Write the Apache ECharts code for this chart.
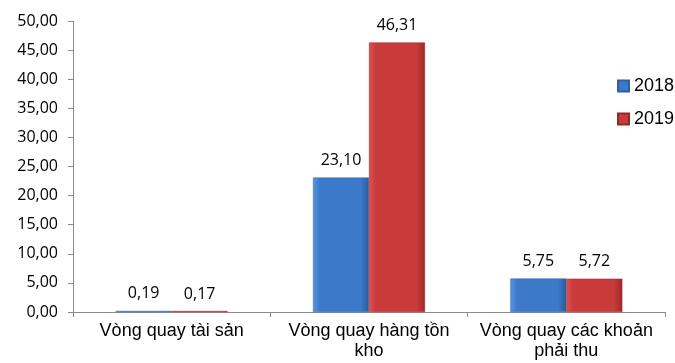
<!DOCTYPE html>
<html>
<head>
<meta charset="utf-8">
<script src="https://cdn.jsdelivr.net/npm/echarts@6/dist/echarts.min.js"></script>
<style>
  html, body { margin: 0; padding: 0; background: #fff; }
  #chart { width: 675px; height: 363px; }
</style>
</head>
<body>
<div id="chart"></div>
<script>
  var categories = ['Vòng quay tài sản', 'Vòng quay hàng tồn\nkho', 'Vòng quay các khoản\nphải thu'];
  var years = ['2018', '2019'];
  var values2018 = [0.19, 23.10, 5.75];
  var values2019 = [0.17, 46.31, 5.72];

  function fmt(v) {
    return v.toFixed(2).replace('.', ',');
  }

  // thanh có viền sáng bên trái, tối bên phải
  function barColor(light, mid, dark) {
    return new echarts.graphic.LinearGradient(0, 0, 1, 0, [
      { offset: 0, color: light },
      { offset: 0.12, color: mid },
      { offset: 0.85, color: mid },
      { offset: 1, color: dark }
    ]);
  }

  var colors = [
    barColor('#5a97e0', '#3c79c8', '#2a5c9e'),
    barColor('#e05252', '#c93a3a', '#9e2a2a')
  ];
  var borders = ['#2f5f9c', '#8f2a2a'];

  var chart = echarts.init(document.getElementById('chart'));

  var series = [values2018, values2019].map(function (vals, i) {
    return {
      name: years[i],
      type: 'bar',
      data: vals,
      barWidth: 56,
      barGap: '0%',
      itemStyle: { color: colors[i], borderColor: borders[i], borderWidth: 0.5 },
      label: {
        show: true,
        position: 'top',
        distance: 9,
        color: '#000',
        fontSize: 16,
        fontFamily: 'Open Sans',
        formatter: function (p) { return fmt(p.value); }
      }
    };
  });

  var option = {
    animation: false,
    grid: { left: 73, right: 10, top: 21, bottom: 51 },
    legend: {
      orient: 'vertical',
      left: 612,
      top: 72,
      itemWidth: 11,
      itemHeight: 11,
      itemGap: 15,
      icon: 'rect',
      textStyle: { fontSize: 18, lineHeight: 18, fontFamily: 'Liberation Sans', color: '#000' },
      data: years
    },
    xAxis: {
      type: 'category',
      data: categories,
      axisLine: { lineStyle: { color: '#8c8c8c' } },
      axisTick: { show: true, length: 5, lineStyle: { color: '#8c8c8c' } },
      axisLabel: {
        interval: 0,
        margin: 9,
        fontSize: 18,
        lineHeight: 20,
        fontFamily: 'Liberation Sans',
        color: '#000'
      }
    },
    yAxis: {
      type: 'value',
      min: 0,
      max: 50,
      interval: 5,
      splitLine: { show: false },
      axisLine: { show: true, lineStyle: { color: '#8c8c8c' } },
      axisTick: { show: true, length: 5, lineStyle: { color: '#8c8c8c' } },
      axisLabel: {
        margin: 15,
        fontSize: 16,
        fontFamily: 'Open Sans',
        color: '#000',
        formatter: function (v) { return fmt(v); }
      }
    },
    series: series
  };

  chart.setOption(option);
</script>
</body>
</html>
